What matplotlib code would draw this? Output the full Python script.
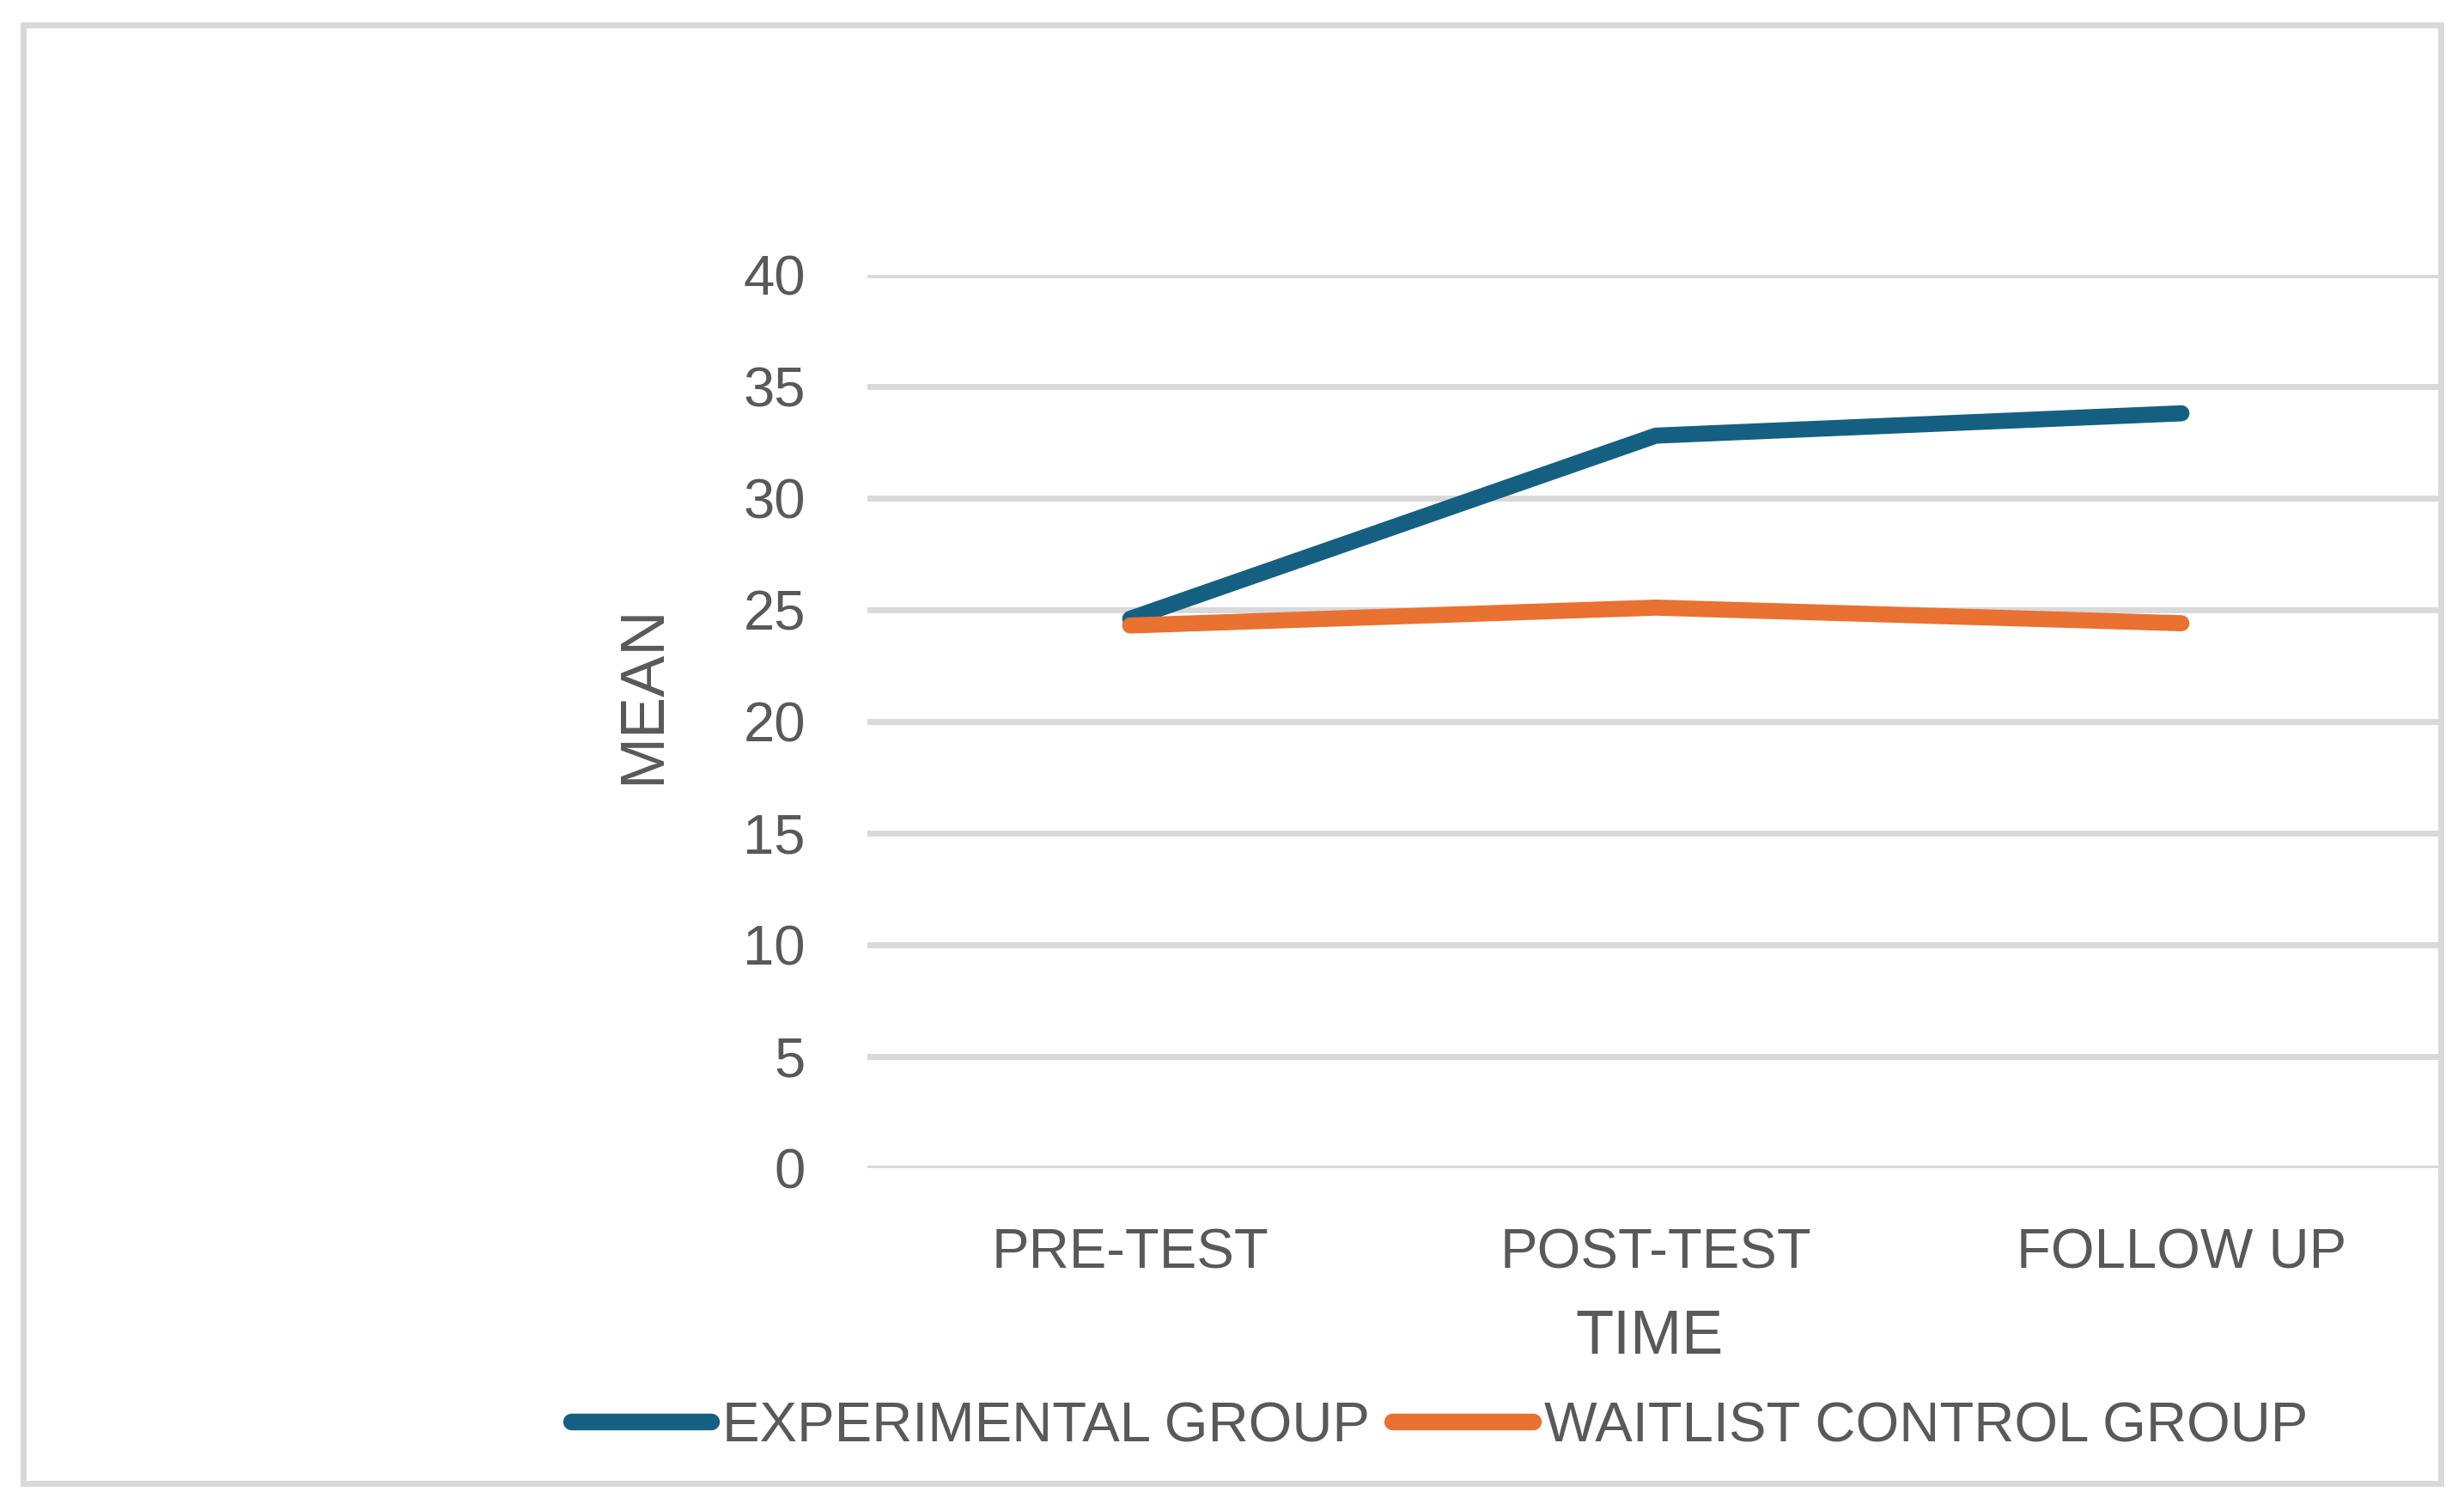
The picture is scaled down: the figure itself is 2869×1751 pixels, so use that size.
import matplotlib
matplotlib.use("Agg")
import matplotlib.pyplot as plt
from matplotlib.patches import Rectangle

# data
time_points = ["PRE-TEST", "POST-TEST", "FOLLOW UP"]
experimental = [24.6, 32.8, 33.8]
waitlist = [24.3, 25.1, 24.4]
y_ticks = [0, 5, 10, 15, 20, 25, 30, 35, 40]

BLUE = "#156082"
ORANGE = "#E97132"
GREY_TXT = "#595959"
GRID = "#D9D9D9"

plt.rcParams["font.family"] = ["Liberation Sans", "DejaVu Sans"]

W, H = 2869, 1751
fig = plt.figure(figsize=(W / 100, H / 100), dpi=100)
fig.patch.set_facecolor("white")

# plot area (figure fractions)
ax = fig.add_axes([1010 / W, 1 - 1360 / H, (2846 - 1010) / W, (1360 - 320) / H])

x = list(range(len(time_points)))
ax.plot(x, experimental, color=BLUE, lw=13.5, solid_capstyle="round",
        solid_joinstyle="round", label="EXPERIMENTAL GROUP", zorder=3)
ax.plot(x, waitlist, color=ORANGE, lw=13.5, solid_capstyle="round",
        solid_joinstyle="round", label="WAITLIST CONTROL GROUP", zorder=4)

ax.set_xlim(-0.5, len(time_points) - 0.5)
ax.set_ylim(0, 40)
ax.set_yticks(y_ticks)
ax.set_yticklabels([str(v) for v in y_ticks])
ax.set_xticks(x)
ax.set_xticklabels(time_points)

for s in ax.spines.values():
    s.set_visible(False)
ax.tick_params(axis="y", length=0, pad=52, labelsize=47, labelcolor=GREY_TXT)
ax.tick_params(axis="x", length=0, pad=50, labelsize=47, labelcolor=GREY_TXT)
ax.yaxis.grid(True, color=GRID, lw=5)
ax.xaxis.grid(False)
ax.set_axisbelow(True)

# axis titles
fig.text(1921 / W, 1 - 1557 / H, "TIME", ha="center", va="center",
         fontsize=52, color=GREY_TXT)
fig.text(750 / W, 1 - 809 / H, "MEAN", ha="center", va="center",
         rotation=90, fontsize=52, color=GREY_TXT)

leg = fig.legend(loc="center", bbox_to_anchor=(1676 / W, 1 - 1661 / H),
                 ncol=2, frameon=False, fontsize=47, handlelength=2.5,
                 handletextpad=0.2, columnspacing=0.4, borderpad=0)
for t in leg.get_texts():
    t.set_color(GREY_TXT)
for h in leg.legend_handles:
    h.set_linewidth(14)
    h.set_solid_capstyle("round")

# chart border
fig.add_artist(Rectangle((27 / W, 1 - 1727 / H), (2842 - 27) / W, (1727 - 29) / H,
                         transform=fig.transFigure, fill=False,
                         edgecolor=GRID, lw=5))

fig.savefig("out.png", dpi=100, facecolor="white")
